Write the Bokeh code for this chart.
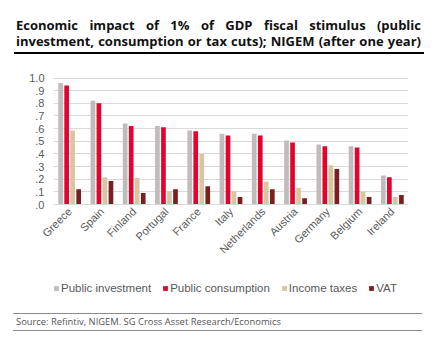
from bokeh.plotting import figure
from bokeh.models import (ColumnDataSource, FactorRange, Range1d, FixedTicker,
                          CustomJSTickFormatter, Div, Legend, LegendItem)
from bokeh.transform import dodge
from bokeh.layouts import column
from bokeh.embed import file_html
from bokeh.resources import INLINE
import math

countries = ["Greece", "Spain", "Finland", "Portugal", "France", "Italy",
             "Netherlands", "Austria", "Germany", "Belgium", "Ireland"]
public_investment = [0.96, 0.82, 0.64, 0.62, 0.585, 0.56, 0.56, 0.505, 0.475, 0.46, 0.23]
public_consumption = [0.94, 0.80, 0.62, 0.61, 0.58, 0.545, 0.545, 0.49, 0.46, 0.45, 0.215]
income_taxes = [0.585, 0.215, 0.21, 0.105, 0.40, 0.105, 0.18, 0.13, 0.31, 0.10, 0.06]
vat = [0.12, 0.185, 0.09, 0.12, 0.145, 0.06, 0.12, 0.05, 0.28, 0.06, 0.075]

series_names = ["Public investment", "Public consumption", "Income taxes", "VAT"]
series_keys = ["pi", "pc", "it", "vat"]
colors = ["#C1BBBB", "#E3032D", "#DAC59E", "#7A1E24"]
y_ticks = [0.0, 0.1, 0.2, 0.3, 0.4, 0.5, 0.6, 0.7, 0.8, 0.9, 1.0]

source = ColumnDataSource(dict(country=countries, pi=public_investment,
                               pc=public_consumption, it=income_taxes, vat=vat))

FONT = "Liberation Sans"
GRAY = "#595959"

title = Div(
    text=("<div style=\"font-family:'Open Sans';font-weight:700;font-size:13px;"
          "line-height:15.5px;color:#111;text-align:justify;text-align-last:justify;"
          "margin-left:14px;width:410px;padding:18px 3px 3px 2px;"
          "border-bottom:2px solid #000;\">"
          "Economic impact of 1% of GDP fiscal stimulus (public<br>"
          "investment, consumption or tax cuts); NIGEM (after one year)</div>"),
    width=439, height=56, margin=0)

p = figure(x_range=FactorRange(*countries), y_range=Range1d(0, 1.004),
           width=439, height=216, output_backend="svg", toolbar_location=None,
           min_border_left=53, min_border_right=31, min_border_top=21,
           min_border_bottom=68)
p.outline_line_color = None
p.background_fill_color = "white"

offsets = [-0.28, -0.093, 0.093, 0.28]
for key, col, off in zip(series_keys, colors, offsets):
    p.vbar(x=dodge("country", off, range=p.x_range), top=key, width=0.145,
           source=source, color=col, line_color=None)

p.xgrid.grid_line_color = None
p.ygrid.grid_line_color = "#D9D9D9"
p.ygrid.grid_line_width = 1

p.yaxis.ticker = FixedTicker(ticks=y_ticks)
p.yaxis.formatter = CustomJSTickFormatter(code="return tick.toFixed(1).replace(/^0/, '');")
p.yaxis.axis_line_color = None
p.yaxis.major_tick_line_color = None
p.yaxis.minor_tick_line_color = None
p.yaxis.major_tick_out = 0
p.yaxis.major_label_standoff = 9
p.yaxis.major_label_text_font = FONT
p.yaxis.major_label_text_font_size = "11px"
p.yaxis.major_label_text_color = GRAY

p.xaxis.axis_line_color = "#D9D9D9"
p.xaxis.major_tick_line_color = None
p.xaxis.minor_tick_line_color = None
p.xaxis.major_tick_out = 0
p.xaxis.major_label_orientation = math.pi / 4
p.xaxis.major_label_standoff = 5
p.xaxis.major_label_text_font = FONT
p.xaxis.major_label_text_font_size = "11px"
p.xaxis.major_label_text_color = GRAY

# legend strip: same series (out of its visible y-range), only the legend shows
lg = figure(x_range=p.x_range, y_range=Range1d(5, 6), width=439, height=38,
            output_backend="svg", toolbar_location=None, min_border=0,
            x_axis_location=None, y_axis_location=None)
lg.outline_line_color = None
lg.grid.grid_line_color = None
rends = []
for key, col, off in zip(series_keys, colors, offsets):
    r = lg.vbar(x=dodge("country", off, range=p.x_range), top=key, width=0.145,
                source=source, color=col, line_color=None)
    rends.append(r)

legend = Legend(items=[LegendItem(label=n, renderers=[r]) for n, r in zip(series_names, rends)],
                orientation="horizontal", location=(0, 16),
                glyph_width=6, glyph_height=6, label_standoff=2, spacing=11,
                label_height=12, padding=0, margin=0,
                border_line_color=None, background_fill_alpha=0,
                label_text_font=FONT, label_text_font_size="11.5px",
                label_text_color=GRAY)
lg.add_layout(legend, "center")

src = Div(
    text=("<div style=\"font-family:'Open Sans';font-size:9.4px;color:#555;"
          "margin-left:13px;width:409px;margin-top:3px;padding:0 4px 0 3px;line-height:16px;"
          "border-top:1px solid #8C8C8C;border-bottom:1px solid #8C8C8C;\">"
          "Source: Refintiv, NIGEM. SG Cross Asset Research/Economics</div>"),
    width=439, height=40, margin=0)

layout = column(title, p, lg, src, spacing=0)
open("out.html", "w").write(file_html(layout, INLINE))
